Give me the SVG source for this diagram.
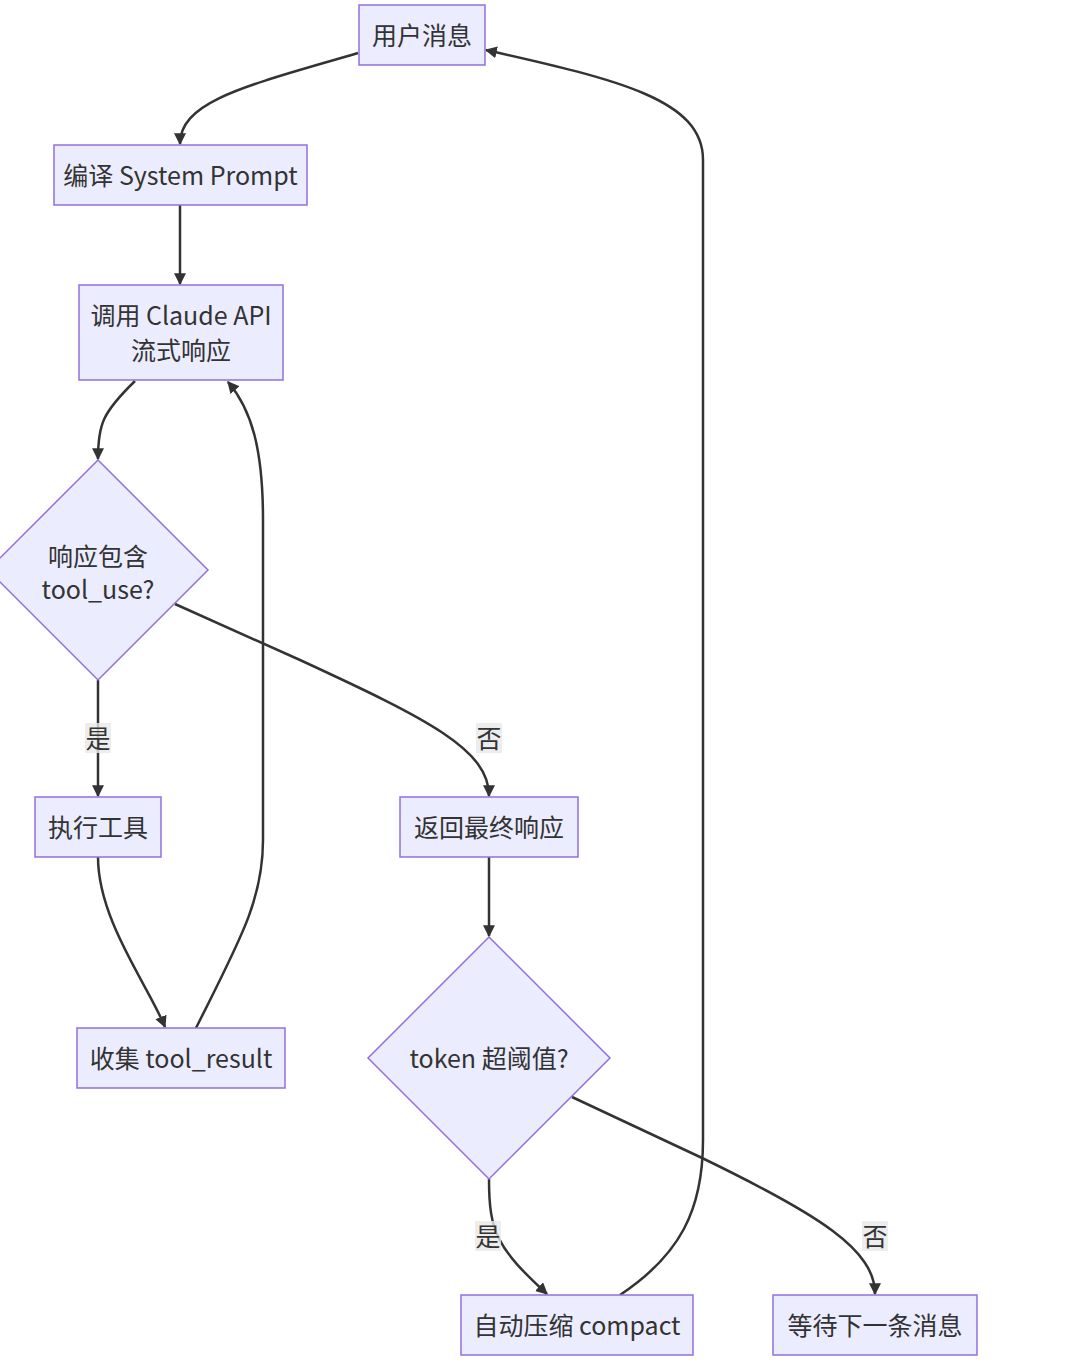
<svg xmlns="http://www.w3.org/2000/svg" width="1074" height="1370" viewBox="0 0 1074 1370">
<defs>
<style>
.node rect,.node polygon{fill:#ECECFF;stroke:#9370DB;stroke-width:1.5}
.node text,.lbl text{font-family:"Noto Sans CJK SC","Noto Sans",sans-serif;font-size:25px;fill:#333;text-anchor:middle;dominant-baseline:central}
.edge{fill:none;stroke:#333;stroke-width:2.5;marker-end:url(#arr)}
.lbl rect{fill:#e8e8e8;fill-opacity:0.8}
</style>
<marker id="arr" viewBox="0 0 10 10" refX="9" refY="5" markerWidth="12" markerHeight="12" markerUnits="userSpaceOnUse" orient="auto">
<path d="M0,0 L10,5 L0,10 z" fill="#333"/>
</marker>
</defs>
<rect width="1074" height="1370" fill="#fff"/>
<g id="connectors">
<path class="edge" d="M358,53 C250,85 180,100 180,144"/>
<path class="edge" d="M180,205 L180,284"/>
<path class="edge" d="M135,381 C102,413 98,425 98,459"/>
<path class="edge" d="M98,680 L98,796"/>
<path class="edge" d="M175,604 L300,660 C430,720 489,750 489,796"/>
<path class="edge" d="M98,857 C98,920 148,985 165,1027"/>
<path class="edge" d="M196,1028 C240,940 263,900 263,840 L263,520 C263,450 252,410 228,382"/>
<path class="edge" d="M489,857 L489,936"/>
<path class="edge" d="M489,1179 C489,1232 497,1248 547,1294"/>
<path class="edge" d="M572,1097 L700,1157 C820,1215 875,1250 875,1294"/>
<path class="edge" d="M620,1295 C680,1255 703,1210 703,1140 L703,160 C703,100 620,80 486,50"/>
<g class="lbl"><rect x="85" y="723" width="26" height="30"/><text x="98" y="737">是</text></g>
<g class="lbl"><rect x="476" y="723" width="26" height="30"/><text x="489" y="737">否</text></g>
<g class="lbl"><rect x="475" y="1221" width="26" height="30"/><text x="488" y="1235">是</text></g>
<g class="lbl"><rect x="862" y="1221" width="26" height="30"/><text x="875" y="1235">否</text></g>
</g>
<g id="n1" class="node"><rect x="359" y="5" width="126" height="60"/><text x="422" y="34">用户消息</text></g>
<g id="n2" class="node"><rect x="54" y="145" width="253" height="60"/><text x="180.5" y="174">编译 System Prompt</text></g>
<g id="n3" class="node"><rect x="79" y="285" width="204" height="95"/><text x="181" y="314">调用 Claude API</text><text x="181" y="349">流式响应</text></g>
<g id="n4" class="node"><polygon points="98,460 208,570 98,680 -12,570"/><text x="98" y="555">响应包含</text><text x="98" y="588">tool_use?</text></g>
<g id="n5" class="node"><rect x="35" y="797" width="126" height="60"/><text x="98" y="826">执行工具</text></g>
<g id="n6" class="node"><rect x="400" y="797" width="178" height="60"/><text x="489" y="826">返回最终响应</text></g>
<g id="n7" class="node"><rect x="77" y="1028" width="208" height="60"/><text x="181" y="1057">收集 tool_result</text></g>
<g id="n8" class="node"><polygon points="489,937 610,1058 489,1179 368,1058"/><text x="489" y="1057">token 超阈值?</text></g>
<g id="n9" class="node"><rect x="461" y="1295" width="232" height="60"/><text x="577" y="1324">自动压缩 compact</text></g>
<g id="n10" class="node"><rect x="773" y="1295" width="204" height="60"/><text x="875" y="1324">等待下一条消息</text></g>
</svg>
